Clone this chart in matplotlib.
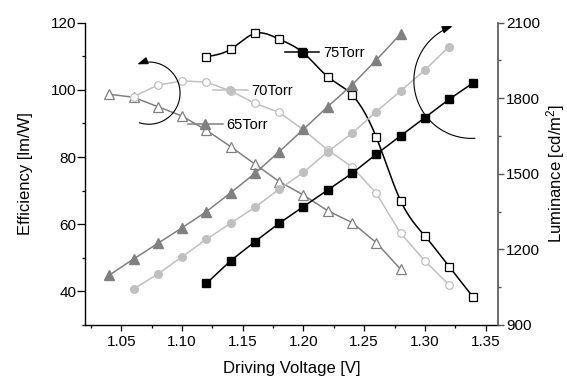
import numpy as np
import matplotlib
matplotlib.use("Agg")
import matplotlib.pyplot as plt
from matplotlib.ticker import MultipleLocator, FormatStrFormatter
from matplotlib.patches import FancyArrowPatch
from matplotlib.path import Path
from matplotlib.transforms import Affine2D
from matplotlib.legend import Legend

plt.rcParams['font.family'] = ['Liberation Sans', 'DejaVu Sans']
plt.rcParams['mathtext.fontset'] = 'custom'
plt.rcParams['mathtext.rm'] = 'Liberation Sans'
plt.rcParams['mathtext.it'] = 'Liberation Sans:italic'
plt.rcParams['mathtext.bf'] = 'Liberation Sans:bold'

# ---------------- data ----------------
v65 = [1.04, 1.06, 1.08, 1.10, 1.12, 1.14, 1.16, 1.18, 1.20, 1.22, 1.24, 1.26, 1.28]
v70 = [1.06, 1.08, 1.10, 1.12, 1.14, 1.16, 1.18, 1.20, 1.22, 1.24, 1.26, 1.28, 1.30, 1.32]
v75 = [1.12, 1.14, 1.16, 1.18, 1.20, 1.22, 1.24, 1.26, 1.28, 1.30, 1.32, 1.34]

eff65 = [98.7, 97.8, 95.0, 92.2, 88.0, 83.1, 77.9, 72.7, 68.7, 64.0, 60.5, 54.5, 46.6]
eff70 = [98.0, 101.4, 102.7, 102.3, 99.7, 96.0, 93.3, 88.1, 82.1, 77.1, 69.2, 57.3, 49.1, 41.9]
eff75 = [109.9, 112.1, 116.8, 115.1, 111.0, 103.9, 98.5, 85.9, 67.0, 56.5, 47.4, 38.2]

lum65 = [1098, 1162, 1224, 1286, 1350, 1425, 1502, 1588, 1677, 1767, 1853, 1952, 2055]
lum70 = [1043, 1102, 1171, 1240, 1304, 1367, 1439, 1506, 1588, 1661, 1747, 1829, 1912, 2005]
lum75 = [1065, 1155, 1231, 1304, 1370, 1436, 1502, 1578, 1651, 1723, 1796, 1862]

labels = ['65Torr', '70Torr', '75Torr']

xticks = [1.05, 1.10, 1.15, 1.20, 1.25, 1.30, 1.35]
yticks_left = [40, 60, 80, 100, 120]
yticks_right = [900, 1200, 1500, 1800, 2100]

c65 = '#808080'
c70 = '#c0c0c0'
c75 = '#000000'


def natural_spline(x, y, n=300):
    x = np.asarray(x, float)
    y = np.asarray(y, float)
    m = len(x)
    h = np.diff(x)
    A = np.zeros((m, m))
    r = np.zeros(m)
    A[0, 0] = 1
    A[-1, -1] = 1
    for i in range(1, m - 1):
        A[i, i - 1] = h[i - 1]
        A[i, i] = 2 * (h[i - 1] + h[i])
        A[i, i + 1] = h[i]
        r[i] = 3 * ((y[i + 1] - y[i]) / h[i] - (y[i] - y[i - 1]) / h[i - 1])
    c = np.linalg.solve(A, r)
    xs = np.linspace(x[0], x[-1], n)
    idx = np.clip(np.searchsorted(x, xs) - 1, 0, m - 2)
    b = (y[1:] - y[:-1]) / h - h * (2 * c[:-1] + c[1:]) / 3
    d = (c[1:] - c[:-1]) / (3 * h)
    t = xs - x[idx]
    ys = y[idx] + b[idx] * t + c[idx] * t ** 2 + d[idx] * t ** 3
    return xs, ys


W, H = 567, 378
fig = plt.figure(figsize=(W / 100, H / 100), dpi=100)
ax = fig.add_axes([85 / W, 1 - 325 / H, (497.7 - 85) / W, (325 - 22.7) / H])
ax2 = ax.twinx()

lw = 1.1
ms_t, ms_c, ms_s = 6.5, 5.5, 5.5
# efficiency (open markers)
ax.plot(v65, eff65, '-', color=c65, lw=lw, zorder=2)
ax.plot(v65, eff65, '^', ls='none', ms=ms_t, mfc='white', mec=c65, mew=0.9, zorder=3)
ax.plot(v70, eff70, '-', color=c70, lw=lw, zorder=2)
ax.plot(v70, eff70, 'o', ls='none', ms=ms_c, mfc='white', mec=c70, mew=0.9, zorder=3)
sx, sy = natural_spline(v75, eff75)
ax.plot(sx, sy, '-', color=c75, lw=lw, zorder=2)
ax.plot(v75, eff75, 's', ls='none', ms=ms_s, mfc='white', mec=c75, mew=0.9, zorder=3)

# luminance (filled markers)
h65, = ax2.plot(v65, lum65, '-^', color=c65, lw=lw, ms=ms_t, mfc=c65, mec=c65)
h70, = ax2.plot(v70, lum70, '-o', color=c70, lw=lw, ms=ms_c, mfc=c70, mec=c70)
h75, = ax2.plot(v75, lum75, '-s', color=c75, lw=lw, ms=ms_s, mfc=c75, mec=c75)

# limits & ticks
ax.set_xlim(1.02, 1.36)
ax.set_ylim(30, 120)
ax2.set_ylim(900, 2100)
ax.set_xticks(xticks)
ax.xaxis.set_minor_locator(MultipleLocator(0.025))
ax.xaxis.set_major_formatter(FormatStrFormatter('%.2f'))
ax.set_yticks(yticks_left)
ax.yaxis.set_minor_locator(MultipleLocator(10))
ax2.set_yticks(yticks_right)
ax2.yaxis.set_minor_locator(MultipleLocator(150))

ax.spines['top'].set_visible(False)
ax2.spines['top'].set_visible(False)
ax2.spines['left'].set_visible(False)
ax2.spines['bottom'].set_visible(False)
ax.spines['right'].set_visible(False)
gray = '#555555'
ax2.spines['right'].set_color(gray)
for s in ['left', 'bottom']:
    ax.spines[s].set_linewidth(1.0)
ax2.spines['right'].set_linewidth(1.2)

ax.tick_params(axis='y', which='major', direction='out', length=5.5, width=0.9,
               labelsize=11, pad=0.8)
ax.tick_params(axis='x', which='major', direction='out', length=4, width=0.9,
               labelsize=11, pad=3)
ax.tick_params(axis='both', which='minor', direction='out', length=2.5, width=0.9)
ax2.tick_params(axis='y', which='major', direction='out', length=4.5, width=1.0,
                labelsize=11, color=gray, pad=1.5)
ax2.tick_params(axis='y', which='minor', direction='out', length=2.5, width=1.0, color=gray)

ax.set_xlabel('Driving Voltage [V]', fontsize=12, labelpad=9)
ax.set_ylabel('Efficiency [lm/W]', fontsize=12, labelpad=13)
ax2.set_ylabel('Luminance [cd/m$^2$]', fontsize=12, labelpad=3)

# inline labels (legends)
leg_pos = [(188.3, 125.0), (213.3, 91.0), (285.0, 52.7)]
for hnd, lab, (px, py) in zip([h65, h70, h75], labels, leg_pos):
    lg = Legend(ax2, [hnd], [lab], loc='center left',
                bbox_to_anchor=(px / W, 1 - py / H), bbox_transform=fig.transFigure,
                frameon=False, borderpad=0, borderaxespad=0, fontsize=10.5,
                handlelength=2.35, handletextpad=0.25, numpoints=1)
    ax2.add_artist(lg)

# curved arrows (pixel coords -> figure)
pix = Affine2D().scale(1, -1).translate(0, H).scale(1 / W, 1 / H) + fig.transFigure


def arc_through(p1, p2, p3, n=60):
    (x1, y1), (x2, y2), (x3, y3) = p1, p2, p3
    d = 2 * (x1 * (y2 - y3) + x2 * (y3 - y1) + x3 * (y1 - y2))
    ux = ((x1**2 + y1**2) * (y2 - y3) + (x2**2 + y2**2) * (y3 - y1) + (x3**2 + y3**2) * (y1 - y2)) / d
    uy = ((x1**2 + y1**2) * (x3 - x2) + (x2**2 + y2**2) * (x1 - x3) + (x3**2 + y3**2) * (x2 - x1)) / d
    r = np.hypot(x1 - ux, y1 - uy)
    a1 = np.arctan2(y1 - uy, x1 - ux)
    a2 = np.arctan2(y2 - uy, x2 - ux)
    a3 = np.arctan2(y3 - uy, x3 - ux)

    def norm(a):
        return a % (2 * np.pi)
    da3 = norm(a3 - a1)
    da2 = norm(a2 - a1)
    if da2 <= da3:
        angs = a1 + np.linspace(0, da3, n)
    else:
        angs = a1 - np.linspace(0, 2 * np.pi - da3, n)
    return np.column_stack([ux + r * np.cos(angs), uy + r * np.sin(angs)])


for p1, p2, p3 in [((139.3, 122.7), (180.0, 95.0), (137.3, 64.3)),
                   ((475.0, 138.3), (414.0, 76.7), (452.7, 26.0))]:
    pts = arc_through(p1, p2, p3)
    arr = FancyArrowPatch(path=Path(pts), arrowstyle='-|>,head_length=0.45,head_width=0.16',
                          mutation_scale=14, color='black', lw=0.8, transform=pix)
    fig.add_artist(arr)

fig.savefig('out.png', dpi=100)
